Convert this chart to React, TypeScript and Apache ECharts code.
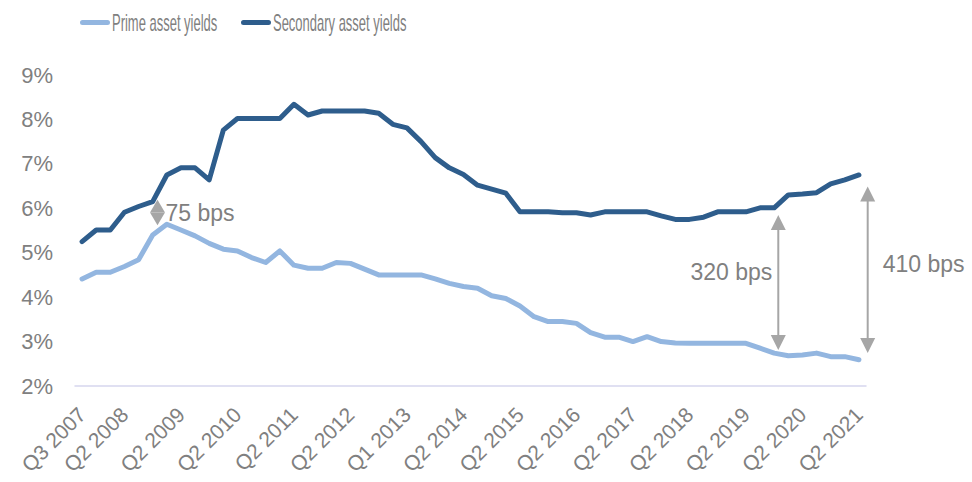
import React, { useEffect, useRef } from "react";
import * as echarts from "echarts";

// Category periods (56 data points)
const categories = [
  "Q3 2007", "Q4 2007", "Q1 2008", "Q2 2008", "Q3 2008", "Q4 2008", "Q1 2009", "Q2 2009",
  "Q3 2009", "Q4 2009", "Q1 2010", "Q2 2010", "Q3 2010", "Q4 2010", "Q1 2011", "Q2 2011",
  "Q3 2011", "Q4 2011", "Q1 2012", "Q2 2012", "Q3 2012", "Q4 2012", "Dec 2012", "Q1 2013",
  "Q2 2013", "Q3 2013", "Q4 2013", "Q2 2014", "Q3 2014", "Q4 2014", "Q1 2015", "Q2 2015",
  "Q3 2015", "Q4 2015", "Q1 2016", "Q2 2016", "Q3 2016", "Q4 2016", "Q1 2017", "Q2 2017",
  "Q3 2017", "Q4 2017", "Q1 2018", "Q2 2018", "Q3 2018", "Q4 2018", "Q1 2019", "Q2 2019",
  "Q3 2019", "Q4 2019", "Q1 2020", "Q2 2020", "Q3 2020", "Q4 2020", "Q1 2021", "Q2 2021",
];

// Tick labels shown on the x axis
const tickLabels = [
  "Q3 2007", "Q2 2008", "Q2 2009", "Q2 2010", "Q2 2011", "Q2 2012", "Q1 2013", "Q2 2014",
  "Q2 2015", "Q2 2016", "Q2 2017", "Q2 2018", "Q2 2019", "Q2 2020", "Q2 2021",
];

// Series names
const seriesNames = ["Prime asset yields", "Secondary asset yields"];

// Prime asset yields (%)
const primeYields = [
  4.41, 4.56, 4.56, 4.69, 4.84, 5.40, 5.64, 5.51, 5.38, 5.21, 5.08, 5.04, 4.89, 4.78,
  5.04, 4.72, 4.65, 4.65, 4.78, 4.76, 4.63, 4.50, 4.50, 4.50, 4.50, 4.41, 4.31, 4.24,
  4.20, 4.03, 3.97, 3.80, 3.56, 3.45, 3.45, 3.41, 3.20, 3.10, 3.10, 3.00, 3.11, 3.00,
  2.97, 2.96, 2.96, 2.96, 2.96, 2.96, 2.85, 2.74, 2.68, 2.70, 2.74, 2.66, 2.66, 2.59,
];

// Secondary asset yields (%)
const secondaryYields = [
  5.25, 5.51, 5.51, 5.91, 6.04, 6.15, 6.75, 6.91, 6.91, 6.64, 7.76, 8.02, 8.02, 8.02,
  8.02, 8.34, 8.10, 8.19, 8.19, 8.19, 8.19, 8.14, 7.89, 7.81, 7.50, 7.14, 6.91, 6.76,
  6.52, 6.43, 6.34, 5.92, 5.92, 5.92, 5.90, 5.90, 5.85, 5.92, 5.92, 5.92, 5.92, 5.83,
  5.75, 5.75, 5.80, 5.92, 5.92, 5.92, 6.01, 6.01, 6.30, 6.32, 6.35, 6.55, 6.64, 6.75,
];

const yTicks = { min: 2, max: 9, interval: 1 };

// Spread annotations (x in category-index units, y tips in %)
const annotX = [5.34, 49.29, 55.62];
const annotTop = [6.19, 5.85, 6.49];
const annotBottom = [5.62, 2.81, 2.74];
const annotLabels = ["75 bps", "320 bps", "410 bps"];

const PRIME_COLOR = "#93B6E0";
const SECONDARY_COLOR = "#2E5D8C";
const TEXT_COLOR = "#808080";
const ANNOT_COLOR = "#A6A6A6";
const FONT = "'Liberation Sans', Arial, sans-serif";

// label placement relative to annotation arrows
const labelLayout = [
  { dx: 8, dy: 0, align: "left" },
  { dx: -6, dy: -10, align: "right" },
  { dx: 15, dy: -6, align: "left" },
];

// legend placement (drawn with graphic so the narrow, tall font can be mimicked)
const legendLayout = [
  { iconX: 80, textX: 112 },
  { iconX: 241, textX: 273 },
];

export default function App() {
  const ref = useRef<HTMLDivElement>(null);

  useEffect(() => {
    if (!ref.current) return;
    const chart = echarts.init(ref.current, null, { renderer: "svg" });

    const annotData = annotX.map((x, i) => [x, annotTop[i], annotBottom[i], i]);
    const colors = [PRIME_COLOR, SECONDARY_COLOR];

    const legendGraphics: any[] = [];
    seriesNames.forEach((name, i) => {
      const lay = legendLayout[i];
      legendGraphics.push({
        type: "rect",
        left: lay.iconX,
        top: 20,
        shape: { width: 30, height: 5, r: 2.5 },
        style: { fill: colors[i] },
        silent: true,
      });
      legendGraphics.push({
        type: "text",
        x: lay.textX,
        y: 23,
        scaleX: 0.565,
        style: {
          text: name,
          fill: TEXT_COLOR,
          fontSize: 23,
          fontFamily: FONT,
          align: "left",
          verticalAlign: "middle",
        },
        silent: true,
      });
    });

    const option: any = {
      animation: false,
      backgroundColor: "#ffffff",
      textStyle: { fontFamily: FONT },
      graphic: legendGraphics,
      grid: {
        left: 75,
        right: 106,
        top: 75,
        bottom: 96,
        containLabel: false,
        outerBoundsMode: "none",
      },
      xAxis: [
        {
          type: "category",
          data: categories,
          boundaryGap: true,
          axisLine: { show: true, lineStyle: { color: "#D6D6EE", width: 1.5 } },
          axisTick: { show: false },
          splitLine: { show: false },
          axisLabel: {
            interval: (_i: number, v: string) => tickLabels.includes(v),
            rotate: 45,
            margin: 25,
            fontSize: 21,
            color: TEXT_COLOR,
            fontFamily: FONT,
          },
        },
        {
          type: "value",
          min: -0.5,
          max: categories.length - 0.5,
          show: false,
          splitLine: { show: false },
        },
      ],
      yAxis: {
        type: "value",
        min: yTicks.min,
        max: yTicks.max,
        interval: yTicks.interval,
        axisLine: { show: false },
        axisTick: { show: false },
        splitLine: { show: false },
        axisLabel: {
          formatter: "{value}%",
          margin: 22,
          fontSize: 22,
          color: TEXT_COLOR,
          fontFamily: FONT,
        },
      },
      series: [
        {
          name: seriesNames[0],
          type: "line",
          data: primeYields,
          symbol: "none",
          color: PRIME_COLOR,
          lineStyle: { color: PRIME_COLOR, width: 5, cap: "round", join: "round" },
          itemStyle: { color: PRIME_COLOR },
        },
        {
          name: seriesNames[1],
          type: "line",
          data: secondaryYields,
          symbol: "none",
          color: SECONDARY_COLOR,
          lineStyle: { color: SECONDARY_COLOR, width: 5, cap: "round", join: "round" },
          itemStyle: { color: SECONDARY_COLOR },
        },
        {
          name: "annotations",
          type: "custom",
          xAxisIndex: 1,
          yAxisIndex: 0,
          silent: true,
          clip: false,
          z: 5,
          data: annotData,
          renderItem: (_params: any, api: any) => {
            const idx = api.value(3);
            const top = api.coord([api.value(0), api.value(1)]);
            const bot = api.coord([api.value(0), api.value(2)]);
            const x = top[0];
            const span = bot[1] - top[1];
            const h = Math.min(15, span / 2);
            const hw = 7.5;
            const lay = labelLayout[idx];
            const children: any[] = [
              {
                type: "polygon",
                shape: { points: [[x, top[1]], [x - hw, top[1] + h], [x + hw, top[1] + h]] },
                style: { fill: ANNOT_COLOR },
              },
              {
                type: "polygon",
                shape: { points: [[x, bot[1]], [x - hw, bot[1] - h], [x + hw, bot[1] - h]] },
                style: { fill: ANNOT_COLOR },
              },
              {
                type: "text",
                x: x + lay.dx,
                y: (top[1] + bot[1]) / 2 + lay.dy,
                style: {
                  text: annotLabels[idx],
                  fill: TEXT_COLOR,
                  fontSize: 23,
                  fontFamily: FONT,
                  align: lay.align,
                  verticalAlign: "middle",
                },
              },
            ];
            if (span > 2 * h) {
              children.push({
                type: "line",
                shape: { x1: x, y1: top[1] + h - 1, x2: x, y2: bot[1] - h + 1 },
                style: { stroke: ANNOT_COLOR, lineWidth: 2 },
              });
            }
            return { type: "group", children };
          },
        },
      ],
    };

    chart.setOption(option);
    return () => chart.dispose();
  }, []);

  return (
    <div
      ref={ref}
      style={{ position: "fixed", left: 0, top: 0, width: 972, height: 482 }}
    />
  );
}
